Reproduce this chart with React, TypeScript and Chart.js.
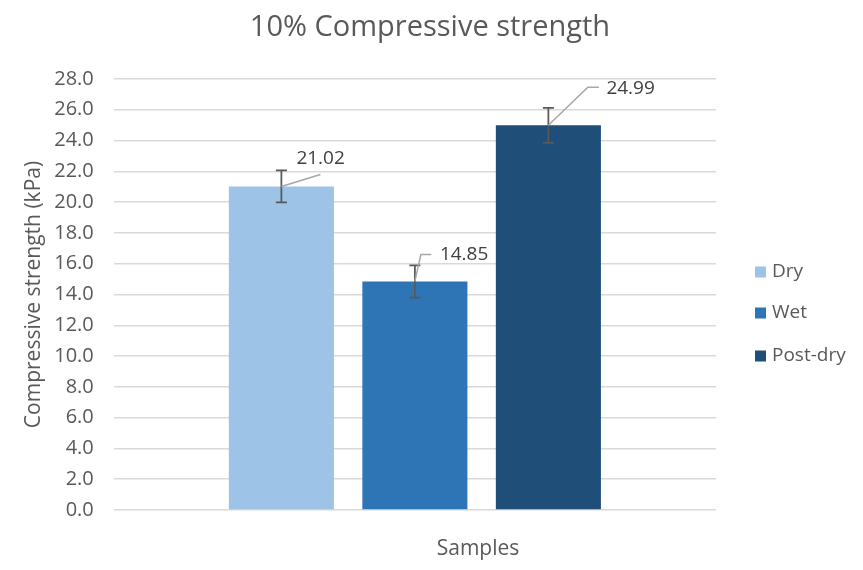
import React, { useEffect, useRef } from "react";
import { Chart, registerables } from "chart.js";

Chart.register(...registerables);

const categories = [""];
const seriesNames = ["Dry", "Wet", "Post-dry"];
const seriesValues = [21.02, 14.85, 24.99];
const seriesErrors = [1.04, 1.05, 1.14];
const seriesColors = ["#9DC3E6", "#2E75B6", "#1F4E79"];
const yTicks = { min: 0, max: 28, step: 2 };

// label placement relative to the top of each bar (px)
const labelOffsets = [
  { text: [15, -28], leader: [[39, -12]] },
  { text: [25, -27], leader: [[6, -27], [16.5, -27]] },
  { text: [58, -37], leader: [[39.5, -38], [50.5, -38]] },
];

const FONT = "'Open Sans', sans-serif";

const overlayPlugin = {
  id: "overlay",
  afterDatasetsDraw(chart: any) {
    const ctx = chart.ctx;
    const y = chart.scales.y;
    ctx.save();
    chart.data.datasets.forEach((ds: any, i: number) => {
      const bar = chart.getDatasetMeta(i).data[0];
      const v = ds.data[0];
      const err = seriesErrors[i];
      const x = bar.x;
      const yTop = y.getPixelForValue(v + err);
      const yBot = y.getPixelForValue(v - err);
      // error bar
      ctx.strokeStyle = "#595959";
      ctx.lineWidth = 1.75;
      ctx.beginPath();
      ctx.moveTo(x, yTop);
      ctx.lineTo(x, yBot);
      ctx.moveTo(x - 5.5, yTop);
      ctx.lineTo(x + 5.5, yTop);
      ctx.moveTo(x - 5.5, yBot);
      ctx.lineTo(x + 5.5, yBot);
      ctx.stroke();

      // leader line + label
      const off = labelOffsets[i];
      const by = y.getPixelForValue(v);
      ctx.strokeStyle = "#A6A6A6";
      ctx.lineWidth = 1.5;
      ctx.beginPath();
      ctx.moveTo(x, by);
      off.leader.forEach((p) => ctx.lineTo(x + p[0], by + p[1]));
      ctx.stroke();

      ctx.fillStyle = "#404040";
      ctx.font = `19px ${FONT}`;
      ctx.textAlign = "left";
      ctx.textBaseline = "middle";
      ctx.fillText(v.toFixed(2), x + off.text[0], by + off.text[1]);
    });
    ctx.restore();
  },
  afterDraw(chart: any) {
    const ctx = chart.ctx;
    const area = chart.chartArea;
    ctx.save();
    // title
    ctx.fillStyle = "#595959";
    ctx.font = `29px ${FONT}`;
    ctx.textAlign = "center";
    ctx.textBaseline = "middle";
    ctx.fillText("10% Compressive strength", 430, 28);
    // legend
    const legendY = [272, 313, 356];
    chart.data.datasets.forEach((ds: any, i: number) => {
      ctx.fillStyle = ds.backgroundColor;
      ctx.fillRect(755, legendY[i] - 5.5, 11, 11);
      ctx.fillStyle = "#595959";
      ctx.font = `19px ${FONT}`;
      ctx.textAlign = "left";
      ctx.textBaseline = "middle";
      ctx.fillText(ds.label, 772, legendY[i]);
    });
    // x axis title
    ctx.fillStyle = "#595959";
    ctx.font = `21px ${FONT}`;
    ctx.textAlign = "center";
    ctx.textBaseline = "middle";
    ctx.fillText("Samples", 478, area.bottom + 39);
    ctx.restore();
  },
};

const BarChart: React.FC = () => {
  const chartRef = useRef<HTMLCanvasElement | null>(null);

  useEffect(() => {
    document.body.style.margin = "0";
    if (!chartRef.current) return;
    const ctx = chartRef.current.getContext("2d");
    if (!ctx) return;

    const chart = new Chart(ctx, {
      type: "bar",
      data: {
        labels: categories,
        datasets: seriesNames.map((name, i) => ({
          label: name,
          data: [seriesValues[i]],
          backgroundColor: seriesColors[i],
          categoryPercentage: 0.665,
          barPercentage: 0.787,
        })),
      },
      options: {
        animation: false,
        responsive: false,
        layout: { padding: { top: 79, left: 10, right: 147, bottom: 52 } },
        plugins: {
          legend: { display: false },
          tooltip: { enabled: false },
          title: { display: false },
        },
        scales: {
          x: {
            grid: { display: false },
            border: { display: false },
            ticks: { display: false },
          },
          y: {
            min: yTicks.min,
            max: yTicks.max,
            ticks: {
              stepSize: yTicks.step,
              color: "#595959",
              font: { family: FONT, size: 20 },
              padding: 20,
              callback: (v: any) => Number(v).toFixed(1),
            },
            grid: { color: "#D9D9D9", lineWidth: 1.5, drawTicks: false },
            border: { display: false },
            title: {
              display: true,
              text: "Compressive strength (kPa)",
              color: "#595959",
              font: { family: FONT, size: 21 },
              padding: { top: 11, bottom: -12 },
            },
          },
        },
      },
      plugins: [overlayPlugin],
    });

    return () => {
      chart.destroy();
    };
  }, []);

  return <canvas ref={chartRef} width={863} height={570} style={{ display: "block" }} />;
};

export default function App() {
  return <BarChart />;
}
